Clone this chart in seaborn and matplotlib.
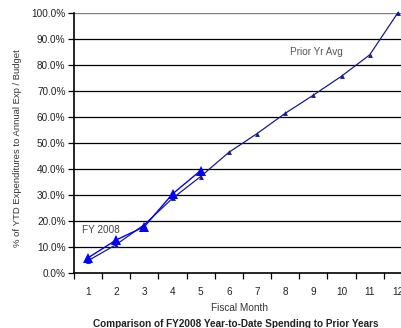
import matplotlib
matplotlib.use("Agg")
import matplotlib.pyplot as plt
from matplotlib.ticker import FixedLocator, PercentFormatter
import pandas as pd
import seaborn as sns

months = [1, 2, 3, 4, 5, 6, 7, 8, 9, 10, 11, 12]
prior_avg = [0.046, 0.108, 0.185, 0.286, 0.370, 0.463, 0.535, 0.613, 0.683, 0.756, 0.838, 1.000]
fy2008_months = [1, 2, 3, 4, 5]
fy2008 = [0.057, 0.126, 0.177, 0.303, 0.393]

sns.set_theme(style="white")
plt.rcParams["font.family"] = ["Liberation Sans", "DejaVu Sans"]

W, H = 402, 328
fig = plt.figure(figsize=(W / 100, H / 100), dpi=100)
left, right, top, bottom = 73.9, 412.0, 12.7, 272.7
ax = fig.add_axes([left / W, 1 - bottom / H, (right - left) / W, (bottom - top) / H])

prior_df = pd.DataFrame({"month": months, "pct": prior_avg})
fy_df = pd.DataFrame({"month": fy2008_months, "pct": fy2008})

sns.lineplot(data=prior_df, x="month", y="pct", ax=ax, color="#1a1a8c", lw=0.9,
             marker="^", markersize=3.5, markeredgewidth=0, clip_on=False)
sns.lineplot(data=fy_df, x="month", y="pct", ax=ax, color="#0000ff", lw=1.0,
             marker="^", markersize=6.5, markeredgewidth=0, clip_on=False)

ax.set_xlim(0.5, 12.5)
ax.set_ylim(0, 1.0)

# horizontal gridlines
for v in [0.1, 0.2, 0.3, 0.4, 0.5, 0.6, 0.7, 0.8, 0.9]:
    ax.axhline(v, color="black", lw=0.9, zorder=0)
ax.axhline(1.0, color="#808080", lw=1.0, zorder=0)

ax.yaxis.set_major_locator(FixedLocator([i / 10 for i in range(11)]))
ax.yaxis.set_major_formatter(PercentFormatter(1.0, decimals=1))
ax.tick_params(axis="y", which="major", direction="out", length=4, width=0.9,
               color="black", labelsize=7.2, pad=2, left=True, labelcolor="#222222")

ax.set_xticks(months)
ax.set_xticks([m + 0.5 for m in range(0, 12)], minor=True)
ax.tick_params(axis="x", which="major", length=0, labelsize=7.2, pad=10, labelcolor="#222222")
ax.tick_params(axis="x", which="minor", direction="out", length=4, width=0.9,
               color="black", bottom=True)

for side in ["top", "right"]:
    ax.spines[side].set_visible(False)
for side in ["left", "bottom"]:
    ax.spines[side].set_color("black")
    ax.spines[side].set_linewidth(1.2)

ax.set_xlabel("")
ax.set_ylabel("")
fig.text(18 / W, 1 - 148 / H, "% of YTD Expenditures to Annual Exp / Budget",
         rotation=90, ha="center", va="center", fontsize=6.8, color="#333333")
fig.text(240 / W, 1 - 308 / H, "Fiscal Month", ha="center", va="center",
         fontsize=7.2, color="#333333")
fig.text(236 / W, 1 - 324 / H, "Comparison of FY2008 Year-to-Date Spending to Prior Years",
         ha="center", va="center", fontsize=7.2, fontweight="bold", color="#222222")

fig.text(290 / W, 1 - 52 / H, "Prior Yr Avg", ha="left", va="center",
         fontsize=7.2, color="#555555")
fig.text(82 / W, 1 - 230 / H, "FY 2008", ha="left", va="center",
         fontsize=7.2, color="#444444")

fig.savefig("out.png", dpi=100)
